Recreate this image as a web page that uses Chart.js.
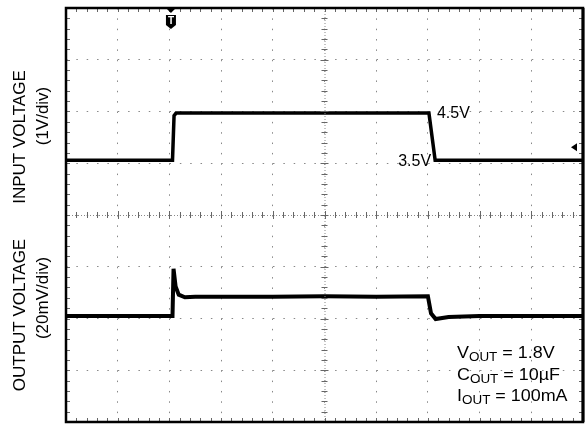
<!DOCTYPE html>
<html>
<head>
<meta charset="utf-8">
<script src="https://cdn.jsdelivr.net/npm/chart.js@4.4.0/dist/chart.umd.min.js"></script>
<style>
  html, body { margin: 0; padding: 0; background: #fff; }
  canvas { display: block; }
</style>
</head>
<body>
<canvas id="chart" width="588" height="424"></canvas>
<script>
// scope screen in divisions: 10 across, 8 up
const xDivs = 10;
const yDivs = 8;

// input trace (channel 1, 1V/div)
const inputX = [0, 2.06, 2.09, 2.13, 7.02, 7.14, 10];
const inputY = [5.06, 5.06, 5.92, 5.97, 5.97, 5.06, 5.06];

// output trace (channel 2, 20mV/div)
const outputX = [0, 2.06, 2.08, 2.12, 2.18, 2.3, 2.5, 4.0, 5.0, 6.0, 7.0, 7.06, 7.15, 7.4, 8.0, 10];
const outputY = [2.05, 2.05, 2.96, 2.62, 2.46, 2.41, 2.42, 2.42, 2.43, 2.42, 2.43, 2.1, 1.99, 2.03, 2.05, 2.05];

// markers and labels
const triggerX = 2.03;
const refLevelY = 5.31;
const highLabel = '4.5V';
const lowLabel = '3.5V';
const condLines = [
  ['V', 'OUT', ' = 1.8V'],
  ['C', 'OUT', ' = 10µF'],
  ['I', 'OUT', ' = 100mA']
];

const FONT = '"Liberation Sans", Arial, sans-serif';

const toPoints = (xs, ys) => xs.map((x, i) => ({ x: x, y: ys[i] }));

const scopeDecor = {
  id: 'scopeDecor',
  afterDraw(chart) {
    const ctx = chart.ctx;
    const a = chart.chartArea;
    const xs = chart.scales.x, ys = chart.scales.y;
    const cx = xs.getPixelForValue(xDivs / 2);
    const cy = ys.getPixelForValue(yDivs / 2);
    ctx.save();

    // center axes, densely dotted
    ctx.strokeStyle = '#888';
    ctx.lineWidth = 1;
    ctx.setLineDash([1, 2]);
    ctx.beginPath();
    ctx.moveTo(a.left, cy + 0.5); ctx.lineTo(a.right, cy + 0.5);
    ctx.moveTo(cx + 0.5, a.top); ctx.lineTo(cx + 0.5, a.bottom);
    ctx.stroke();
    ctx.setLineDash([]);

    // minor ticks on center axes and edges
    ctx.strokeStyle = '#666';
    ctx.beginPath();
    for (let v = 0; v <= xDivs; v += 0.2) {
      const px = Math.round(xs.getPixelForValue(v)) + 0.5;
      const big = Math.abs(v - Math.round(v)) < 0.01;
      const h = big ? 4 : 3;
      ctx.moveTo(px, cy - h); ctx.lineTo(px, cy + h);
      ctx.moveTo(px, a.top); ctx.lineTo(px, a.top + 4);
      ctx.moveTo(px, a.bottom); ctx.lineTo(px, a.bottom - 4);
    }
    for (let v = 0; v <= yDivs; v += 0.2) {
      const py = Math.round(ys.getPixelForValue(v)) + 0.5;
      const big = Math.abs(v - Math.round(v)) < 0.01;
      const h = big ? 4 : 3;
      ctx.moveTo(cx - h, py); ctx.lineTo(cx + h, py);
      ctx.moveTo(a.left, py); ctx.lineTo(a.left + 4, py);
      ctx.moveTo(a.right, py); ctx.lineTo(a.right - 4, py);
    }
    ctx.stroke();

    // frame
    ctx.strokeStyle = '#000';
    ctx.lineWidth = 2.5;
    ctx.strokeRect(a.left, a.top, a.right - a.left, a.bottom - a.top);
    ctx.lineWidth = 3;
    ctx.beginPath();
    ctx.moveTo(a.right, a.top); ctx.lineTo(a.right, a.bottom);
    ctx.stroke();

    // trigger marker
    const tx = xs.getPixelForValue(triggerX);
    ctx.fillStyle = '#000';
    ctx.beginPath();
    ctx.moveTo(tx - 5, a.top); ctx.lineTo(tx + 5, a.top); ctx.lineTo(tx, a.top + 5);
    ctx.closePath(); ctx.fill();
    ctx.beginPath();
    ctx.moveTo(tx - 5, a.top + 7);
    ctx.lineTo(tx + 5, a.top + 7);
    ctx.lineTo(tx + 5, a.top + 17);
    ctx.lineTo(tx, a.top + 21);
    ctx.lineTo(tx - 5, a.top + 17);
    ctx.closePath(); ctx.fill();
    ctx.fillStyle = '#fff';
    ctx.font = 'bold 10px ' + FONT;
    ctx.textAlign = 'center';
    ctx.textBaseline = 'middle';
    ctx.fillText('T', tx, a.top + 13);

    // reference level arrow on the right
    const ry = ys.getPixelForValue(refLevelY);
    ctx.fillStyle = '#000';
    ctx.beginPath();
    ctx.moveTo(a.right - 12, ry); ctx.lineTo(a.right - 6, ry - 4); ctx.lineTo(a.right - 6, ry + 4);
    ctx.closePath(); ctx.fill();

    // level labels
    ctx.fillStyle = '#000';
    ctx.font = '16px ' + FONT;
    ctx.textBaseline = 'middle';
    ctx.textAlign = 'left';
    ctx.fillText(highLabel, xs.getPixelForValue(inputX[4]) + 8, ys.getPixelForValue(inputY[4]) + 1);
    ctx.textAlign = 'right';
    ctx.fillText(lowLabel, xs.getPixelForValue(inputX[5]) - 4, ys.getPixelForValue(inputY[5]) + 1);

    // conditions box (text slightly wide, as in the scope capture)
    ctx.textAlign = 'left';
    ctx.textBaseline = 'alphabetic';
    condLines.forEach((parts, i) => {
      ctx.save();
      ctx.translate(457, 358 + i * 21.5);
      ctx.scale(1.12, 1);
      let x = 0;
      ctx.font = '16px ' + FONT;
      ctx.fillText(parts[0], x, 0);
      x += ctx.measureText(parts[0]).width;
      ctx.font = '12px ' + FONT;
      ctx.fillText(parts[1], x, 3);
      x += ctx.measureText(parts[1]).width;
      ctx.font = '16px ' + FONT;
      ctx.fillText(parts[2], x, 0);
      ctx.restore();
    });

    // rotated axis titles
    const title = (lines, centers, xpos) => {
      lines.forEach((t, i) => {
        ctx.save();
        ctx.translate(xpos[i], centers[i]);
        ctx.rotate(-Math.PI / 2);
        ctx.font = '17px ' + FONT;
        ctx.textAlign = 'center';
        ctx.textBaseline = 'middle';
        ctx.fillStyle = '#000';
        ctx.fillText(t, 0, 0);
        ctx.restore();
      });
    };
    title(['INPUT VOLTAGE', '(1V/div)'], [137, 116], [20, 43]);
    title(['OUTPUT VOLTAGE', '(20mV/div)'], [315, 298], [20, 43]);

    ctx.restore();
  }
};

const ctx = document.getElementById('chart').getContext('2d');

const chart = new Chart(ctx, {
  type: 'line',
  data: {
    datasets: [{
      label: 'Input',
      data: toPoints(inputX, inputY),
      borderColor: '#000',
      borderWidth: 3.5,
      pointRadius: 0,
      tension: 0,
      fill: false
    }, {
      label: 'Output',
      data: toPoints(outputX, outputY),
      borderColor: '#000',
      borderWidth: 4,
      pointRadius: 0,
      tension: 0,
      fill: false
    }]
  },
  options: {
    responsive: false,
    animation: false,
    layout: { padding: { left: 66, top: 8, right: 5, bottom: 2 } },
    plugins: {
      legend: { display: false },
      tooltip: { enabled: false }
    },
    scales: {
      x: {
        type: 'linear',
        min: 0,
        max: xDivs,
        ticks: { display: false, stepSize: 1 },
        grid: { color: '#888', drawTicks: false, lineWidth: 1 },
        border: { display: false, dash: [1.5, 8.85] }
      },
      y: {
        type: 'linear',
        min: 0,
        max: yDivs,
        ticks: { display: false, stepSize: 1 },
        grid: { color: '#888', drawTicks: false, lineWidth: 1 },
        border: { display: false, dash: [1.5, 8.85] }
      }
    }
  },
  plugins: [scopeDecor]
});
</script>
</body>
</html>
